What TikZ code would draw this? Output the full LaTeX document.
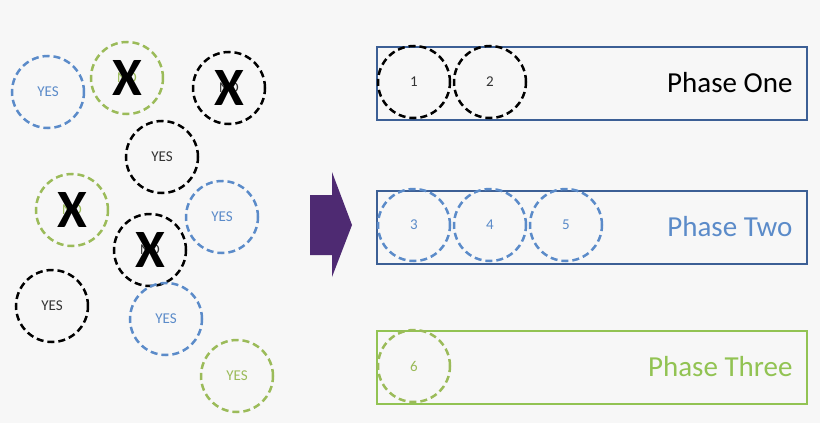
\documentclass[tikz,border=0pt]{standalone}
\usepackage{fontspec}
\setmainfont{Carlito}
\definecolor{cb}{HTML}{5B8BC9}
\definecolor{cg}{HTML}{9BBB59}
\definecolor{rb}{HTML}{3C5F95}
\definecolor{rg}{HTML}{92C353}
\definecolor{pu}{HTML}{4E2A72}
\definecolor{bg}{HTML}{F7F7F7}
\begin{document}
\begin{tikzpicture}[x=1pt,y=-1pt,
 c/.style={circle,draw,line width=2.5pt,dash pattern=on 7pt off 4pt,minimum size=72pt,inner sep=0pt,font=\fontsize{15}{15}\selectfont},
 cbl/.style={c,draw=cb,text=cb}, cgr/.style={c,draw=cg,text=cg}, cbk/.style={c,draw=black,text=black!80},
 xm/.style={font=\fontsize{54}{54}\selectfont\bfseries,text=black},
 ph/.style={draw,line width=2pt,minimum width=430pt,minimum height=73pt,anchor=north west,inner sep=0pt},
 pt/.style={anchor=east,font=\fontsize{29}{29}\selectfont}]
\fill[bg] (0,0) rectangle (820,423);
\useasboundingbox (0,0) rectangle (820,423);
\node[cbl] (a) at (48,92) {YES};
\node[cgr] (b) at (127,78) {NO};
\node[cbk] (c) at (229,88) {NO};
\node[cbk] (d) at (162,157) {YES};
\node[cgr] (e) at (72,210) {NO};
\node[cbl] (f) at (222,217) {YES};
\node[cbk] (g) at (150,250) {NO};
\node[cbk] (h) at (52,306) {YES};
\node[cbl] (i) at (166,319) {YES};
\node[cgr] (j) at (237,376) {YES};
\foreach \n in {b,c,e,g} \node[xm] at (\n) {X};
\fill[pu] (310,195) -- (332,195) -- (332,172) -- (352,225) -- (332,277) -- (332,255) -- (310,255) -- cycle;
\node[ph,draw=rb] (p1) at (376,46) {};
\node[ph,draw=rb] (p2) at (376,190) {};
\node[ph,draw=rg] (p3) at (376,330) {};
\node[pt,text=black] at (796,83) {Phase One};
\node[pt,text=cb] at (796,227) {Phase Two};
\node[pt,text=rg] at (796,367) {Phase Three};
\node[cbk] (n1) at (414,82) {1};
\node[cbk] (n2) at (490,82) {2};
\node[cbl] (n3) at (414,225) {3};
\node[cbl] (n4) at (490,225) {4};
\node[cbl] (n5) at (566,225) {5};
\node[cgr] (n6) at (414,366) {6};
\end{tikzpicture}
\end{document}
